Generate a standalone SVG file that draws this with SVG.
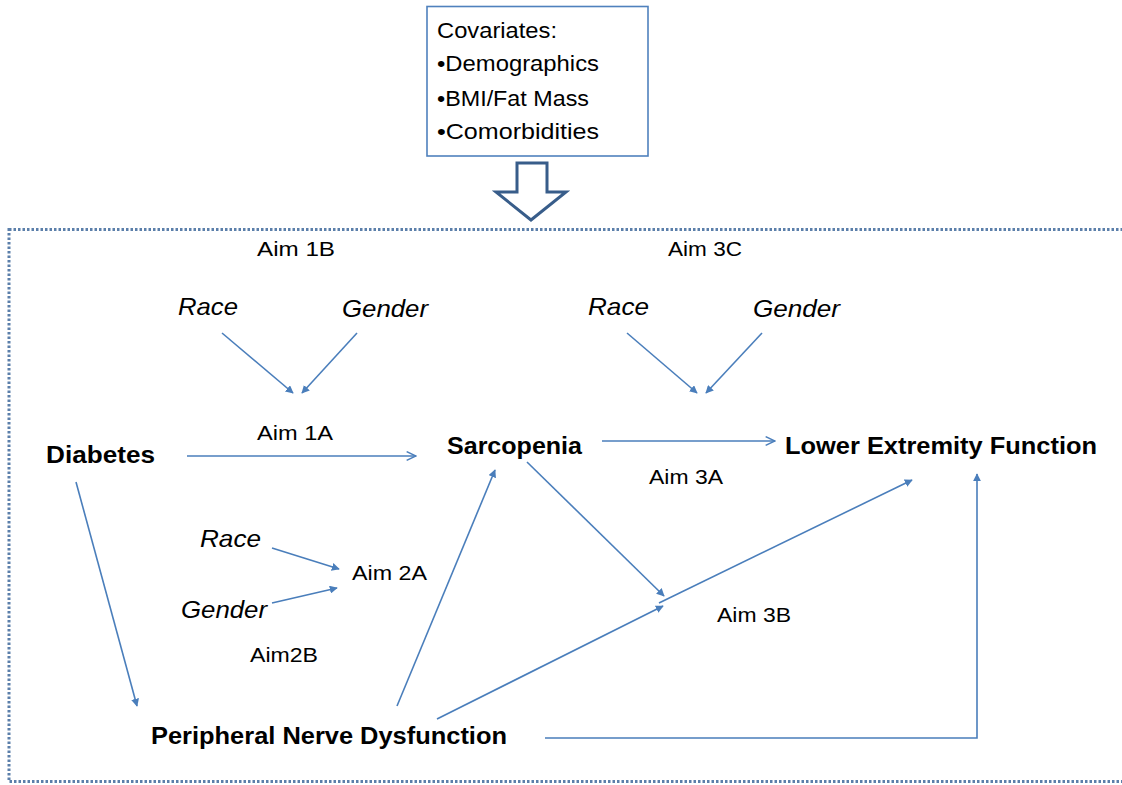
<svg xmlns="http://www.w3.org/2000/svg" width="1122" height="785" viewBox="0 0 1122 785">
<style>
text{font-family:"Liberation Sans",Arial,sans-serif;fill:#000}
.cov{font-size:22px}
.aim{font-size:21px}
.it{font-size:24px;font-style:italic}
.b{font-size:23px;font-weight:bold}
.c{fill:none;stroke:#4a7ebb;stroke-width:1.6}
</style>
<defs>
<marker id="f" viewBox="0 0 10 10" refX="9" refY="5" markerWidth="8" markerHeight="8" markerUnits="userSpaceOnUse" orient="auto"><path d="M0,0L10,5L0,10z" fill="#4a7ebb"/></marker>
<marker id="o" viewBox="0 0 10 10" refX="9.5" refY="5" markerWidth="11" markerHeight="11" markerUnits="userSpaceOnUse" orient="auto"><path d="M1,1L9.5,5L1,9" fill="none" stroke="#4a7ebb" stroke-width="1.3"/></marker>
</defs>
<rect x="9" y="229.5" width="1125" height="552" fill="none" stroke="#5b7faa" stroke-width="3" stroke-dasharray="2.5 2"/>
<g id="covariates">
<rect x="427" y="6.5" width="221" height="149.5" fill="#fff" stroke="#4f81bd" stroke-width="1.6"/>
<text class="cov" x="437" y="38" textLength="120" lengthAdjust="spacingAndGlyphs">Covariates:</text>
<text class="cov" x="437" y="71" textLength="162" lengthAdjust="spacingAndGlyphs">•Demographics</text>
<text class="cov" x="437" y="106" textLength="152" lengthAdjust="spacingAndGlyphs">•BMI/Fat Mass</text>
<text class="cov" x="437" y="139" textLength="162" lengthAdjust="spacingAndGlyphs">•Comorbidities</text>
</g>
<g id="blockarrow">
<path d="M517,163H547V192H566L531,220L496,192H517Z" fill="#fff" stroke="#385d8a" stroke-width="3" stroke-linejoin="miter"/>
</g>
<g id="labels">
<text class="aim" x="257" y="256" textLength="78" lengthAdjust="spacingAndGlyphs">Aim 1B</text>
<text class="aim" x="668" y="256" textLength="74" lengthAdjust="spacingAndGlyphs">Aim 3C</text>
<text class="aim" x="257" y="440" textLength="76" lengthAdjust="spacingAndGlyphs">Aim 1A</text>
<text class="aim" x="649" y="484" textLength="74" lengthAdjust="spacingAndGlyphs">Aim 3A</text>
<text class="aim" x="352" y="580" textLength="75" lengthAdjust="spacingAndGlyphs">Aim 2A</text>
<text class="aim" x="717" y="622" textLength="74" lengthAdjust="spacingAndGlyphs">Aim 3B</text>
<text class="aim" x="250" y="662" textLength="68" lengthAdjust="spacingAndGlyphs">Aim2B</text>
</g>
<g id="moderators">
<text class="it" x="178" y="315" textLength="60" lengthAdjust="spacingAndGlyphs">Race</text>
<text class="it" x="342" y="317" textLength="86" lengthAdjust="spacingAndGlyphs">Gender</text>
<text class="it" x="588" y="315" textLength="61" lengthAdjust="spacingAndGlyphs">Race</text>
<text class="it" x="753" y="317" textLength="87" lengthAdjust="spacingAndGlyphs">Gender</text>
<text class="it" x="200" y="547" textLength="61" lengthAdjust="spacingAndGlyphs">Race</text>
<text class="it" x="181" y="618" textLength="86" lengthAdjust="spacingAndGlyphs">Gender</text>
</g>
<g id="diabetes"><text class="b" x="46" y="463" textLength="109" lengthAdjust="spacingAndGlyphs">Diabetes</text></g>
<g id="sarcopenia"><text class="b" x="447" y="454" textLength="135" lengthAdjust="spacingAndGlyphs">Sarcopenia</text></g>
<g id="lef"><text class="b" x="785" y="454" textLength="312" lengthAdjust="spacingAndGlyphs">Lower Extremity Function</text></g>
<g id="pnd"><text class="b" x="151" y="744" textLength="356" lengthAdjust="spacingAndGlyphs">Peripheral Nerve Dysfunction</text></g>
<g id="connectors">
<line class="c" x1="222" y1="333" x2="293" y2="393" marker-end="url(#f)"/>
<line class="c" x1="357" y1="333" x2="302" y2="393" marker-end="url(#f)"/>
<line class="c" x1="627" y1="333" x2="697" y2="393" marker-end="url(#f)"/>
<line class="c" x1="762" y1="333" x2="706" y2="393" marker-end="url(#f)"/>
<line class="c" x1="187" y1="456" x2="416" y2="456" marker-end="url(#o)"/>
<line class="c" x1="602" y1="441" x2="775" y2="441" marker-end="url(#o)"/>
<line class="c" x1="76" y1="482" x2="137" y2="706" marker-end="url(#f)"/>
<line class="c" x1="272" y1="548" x2="339" y2="569" marker-end="url(#f)"/>
<line class="c" x1="272" y1="603" x2="337" y2="588" marker-end="url(#f)"/>
<line class="c" x1="397" y1="706" x2="495" y2="470" marker-end="url(#f)"/>
<line class="c" x1="527" y1="462" x2="664" y2="596" marker-end="url(#f)"/>
<line class="c" x1="437" y1="719" x2="663" y2="606" marker-end="url(#f)"/>
<line class="c" x1="659" y1="603" x2="912" y2="480" marker-end="url(#f)"/>
<polyline class="c" points="545,738 977,738 977,474" marker-end="url(#f)"/>
</g>
</svg>
